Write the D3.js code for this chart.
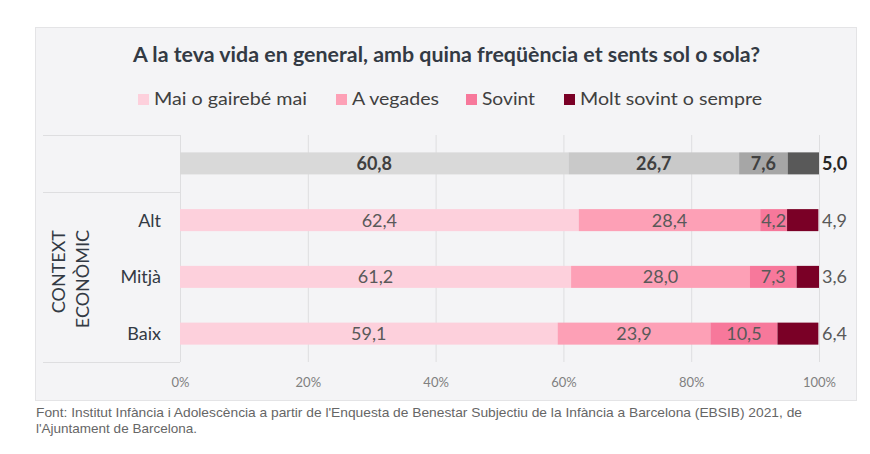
<!DOCTYPE html>
<html>
<head>
<meta charset="utf-8">
<script src="https://cdn.jsdelivr.net/npm/d3@7"></script>
<style>
  body { margin: 0; background: #ffffff; }
  svg { display: block; }
</style>
</head>
<body>
<div id="chart"></div>
<script>
// Chart data
const categories = ["Total", "Alt", "Mitjà", "Baix"];
const categoryLabels = ["", "Alt", "Mitjà", "Baix"];
const seriesNames = ["Mai o gairebé mai", "A vegades", "Sovint", "Molt sovint o sempre"];
const maiValues = [60.8, 62.4, 61.2, 59.1];
const vegadesValues = [26.7, 28.4, 28.0, 23.9];
const sovintValues = [7.6, 4.2, 7.3, 10.5];
const moltValues = [5.0, 4.9, 3.6, 6.4];
const tickValues = [0, 20, 40, 60, 80, 100];

const pinkColors = ["#fdd0dc", "#fda0b6", "#f7789b", "#7a0026"];
const grayColors = ["#d9d9d9", "#c9c9c9", "#a6a6a6", "#595959"];

// Building rows for the stack
const rows = categories.map((c, i) => ({
  cat: c,
  [seriesNames[0]]: maiValues[i],
  [seriesNames[1]]: vegadesValues[i],
  [seriesNames[2]]: sovintValues[i],
  [seriesNames[3]]: moltValues[i],
}));

const width = 870,
  height = 454;

const svg = d3
  .select("#chart")
  .append("svg")
  .attr("width", width)
  .attr("height", height);

const font = "Lato, 'Open Sans', sans-serif";

// Panel background
svg
  .append("rect")
  .attr("x", 35.5)
  .attr("y", 27.5)
  .attr("width", 821)
  .attr("height", 373)
  .attr("fill", "#f4f4f6")
  .attr("stroke", "#e4e4e6");

// Title
svg
  .append("text")
  .attr("x", 133)
  .attr("y", 62)
  .attr("textLength", 627)
  .attr("lengthAdjust", "spacingAndGlyphs")
  .style("font-family", font)
  .style("font-weight", "bold")
  .style("font-size", "20px")
  .style("fill", "#333a44")
  .text("A la teva vida en general, amb quina freqüència et sents sol o sola?");

// Legend
const legendX = [138, 336, 466, 564];
const legendW = [153, 87, 53, 182];
const legend = svg
  .selectAll(".legend")
  .data(seriesNames)
  .enter()
  .append("g")
  .attr("class", "legend")
  .attr("transform", (d, i) => `translate(${legendX[i]}, 99)`);

legend
  .append("rect")
  .attr("x", 0)
  .attr("y", -5)
  .attr("width", 11)
  .attr("height", 11)
  .attr("fill", (d, i) => pinkColors[i]);

legend
  .append("text")
  .attr("x", 16)
  .attr("dy", "0.35em")
  .attr("textLength", (d, i) => legendW[i])
  .attr("lengthAdjust", "spacingAndGlyphs")
  .style("font-family", font)
  .style("font-size", "17px")
  .style("fill", "#404040")
  .text((d) => d);

// Scales
const x = d3.scaleLinear().domain([0, 100]).range([180, 819]);
const y = d3
  .scaleBand()
  .domain(categories)
  .range([135, 362])
  .paddingInner(0.612)
  .paddingOuter(0.306);

// Gridlines
svg
  .append("g")
  .selectAll("line")
  .data(tickValues)
  .enter()
  .append("line")
  .attr("x1", (d) => x(d) + 0.5)
  .attr("x2", (d) => x(d) + 0.5)
  .attr("y1", 135)
  .attr("y2", 362)
  .attr("stroke", "#dedee0")
  .attr("stroke-width", 1);

// Table lines on the left
[135, 192, 362].forEach((yy) => {
  svg
    .append("line")
    .attr("x1", 43)
    .attr("x2", 180)
    .attr("y1", yy + 0.5)
    .attr("y2", yy + 0.5)
    .attr("stroke", "#dedee0");
});

// X axis tick labels
const xAxis = svg
  .append("g")
  .attr("transform", "translate(0, 375)")
  .call(
    d3
      .axisBottom(x)
      .tickValues(tickValues)
      .tickFormat((d) => d + "%")
      .tickSize(0)
  );
xAxis.select(".domain").remove();
xAxis
  .selectAll("text")
  .style("font-family", font)
  .style("font-size", "13px")
  .style("fill", "#808080");

// Category labels
svg
  .append("g")
  .selectAll("text")
  .data(categories)
  .enter()
  .append("text")
  .attr("x", 161)
  .attr("y", (d) => y(d) + y.bandwidth() / 2)
  .attr("dy", "0.36em")
  .attr("text-anchor", "end")
  .style("font-family", font)
  .style("font-size", "18px")
  .style("fill", "#333a44")
  .text((d, i) => categoryLabels[i]);

// Rotated group label
const groupLabel = svg
  .append("text")
  .attr("transform", "rotate(-90)")
  .attr("text-anchor", "end")
  .style("font-family", font)
  .style("font-size", "18px")
  .style("fill", "#333a44");
groupLabel.append("tspan").attr("x", -230).attr("y", 65).text("CONTEXT");
groupLabel.append("tspan").attr("x", -230).attr("y", 89).text("ECONÒMIC");

// Stacked bars
const stack = d3.stack().keys(seriesNames);
const stacked = stack(rows);

const layers = svg
  .selectAll(".layer")
  .data(stacked)
  .enter()
  .append("g")
  .attr("class", "layer");

layers
  .selectAll("rect")
  .data((layer, li) => layer.map((d) => ({ d, li, key: layer.key })))
  .enter()
  .append("rect")
  .attr("x", (o) => x(o.d[0]))
  .attr("y", (o) => y(o.d.data.cat))
  .attr("width", (o) => Math.max(0, Math.min(x(100), x(o.d[1])) - x(o.d[0])))
  .attr("height", y.bandwidth())
  .attr("fill", (o) =>
    o.d.data.cat === "Total" ? grayColors[o.li] : pinkColors[o.li]
  );

// Value labels
layers
  .selectAll("text")
  .data((layer, li) => layer.map((d) => ({ d, li, key: layer.key })))
  .enter()
  .append("text")
  .attr("x", (o) =>
    o.li === 3 ? x(100) + 3 : (x(o.d[0]) + x(o.d[1])) / 2
  )
  .attr("y", (o) => y(o.d.data.cat) + y.bandwidth() / 2)
  .attr("dy", "0.36em")
  .attr("text-anchor", (o) => (o.li === 3 ? "start" : "middle"))
  .style("font-family", font)
  .style("font-size", "18px")
  .style("font-weight", (o) => (o.d.data.cat === "Total" ? "bold" : "normal"))
  .style("fill", (o) =>
    o.li === 3 && o.d.data.cat === "Total"
      ? "#262626"
      : o.d.data.cat === "Total"
      ? "#404040"
      : "#595959"
  )
  .text((o) => d3.format(".1f")(o.d.data[o.key]).replace(".", ","));

// Source note
const note = svg
  .append("text")
  .style("font-family", "'Liberation Sans', Arial, sans-serif")
  .style("font-size", "13.5px")
  .style("fill", "#666666");
note
  .append("tspan")
  .attr("x", 36)
  .attr("y", 417)
  .attr("textLength", 766)
  .attr("lengthAdjust", "spacingAndGlyphs")
  .text(
    "Font: Institut Infància i Adolescència a partir de l'Enquesta de Benestar Subjectiu de la Infància a Barcelona (EBSIB) 2021, de"
  );
note.append("tspan").attr("x", 36).attr("y", 433).text("l'Ajuntament de Barcelona.");
</script>
</body>
</html>
